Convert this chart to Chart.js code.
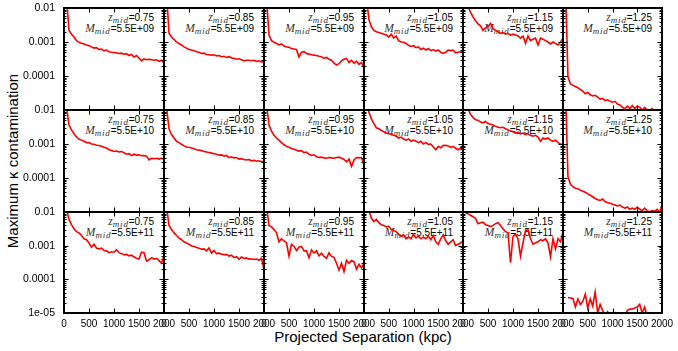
<!DOCTYPE html>
<html><head><meta charset="utf-8">
<script src="https://cdn.jsdelivr.net/npm/chart.js@4.4.1/dist/chart.umd.min.js"></script>
<style>
html,body{margin:0;padding:0;background:#fff;}
#wrap{position:relative;width:678px;height:351px;overflow:hidden;font-family:"Liberation Sans",Arial,sans-serif;color:#000;}
#wrap canvas{position:absolute;z-index:2;}
.ann{position:absolute;z-index:1;text-align:right;font-size:10px;white-space:nowrap;}
.ann div{height:10.7px;line-height:10.7px;}
.ann .v{font-family:"Liberation Serif","DejaVu Serif",serif;font-style:italic;font-size:11.5px;color:#333;}
.ann .s{font-family:"Liberation Serif","DejaVu Serif",serif;font-style:italic;font-size:9px;letter-spacing:0.8px;color:#333;position:relative;top:2px;}
#ytitle{position:absolute;left:-137.5px;top:151.5px;width:300px;height:18px;line-height:18px;text-align:center;font-size:15px;transform:rotate(-90deg);transform-origin:50% 50%;white-space:nowrap;}
#xtitle{position:absolute;left:213px;top:328px;width:300px;height:18px;line-height:18px;text-align:center;font-size:15px;white-space:nowrap;}
</style>
</head><body>
<div id="wrap">
<div id="ytitle">Maximum κ contamination</div>
<div id="xtitle">Projected Separation (kpc)</div>
</div>
<script>
// ---- data ----
const kpc = [50,100,150,200,250,300,350,400,450,500,550,600,650,700,750,800,850,900,950,1000,
             1050,1100,1150,1200,1250,1300,1350,1400,1450,1500,1550,1600,1650,1700,1750,1800,1850,1900,1950,2000];
const zMid = ['0.75','0.85','0.95','1.05','1.15','1.25'];
const mMid = ['5.5E+09','5.5E+10','5.5E+11'];
const xTickVals = [0,500,1000,1500,2000];
const xTickLabels = ['0','500','1000','1500','2000'];
const yTickVals = [1e-5,1e-4,1e-3,1e-2];
const yTickLabels = ['1e-05','0.0001','0.001','0.01'];

// M = 5.5E+09
const m09_z075 = [0.02,0.0022,0.0017,0.0014,0.0011,0.00098,0.00092,0.00088,0.00082,0.00078,
  0.00072,0.00066,0.00068,0.00060,0.00062,0.00055,0.00058,0.00052,0.00050,0.00049,
  0.00048,0.00046,0.00047,0.00044,0.00045,0.00040,0.00043,0.00036,0.00040,0.00034,
  0.00028,0.00032,0.00030,0.00031,0.00030,0.00029,0.00030,0.00027,0.00029,0.00024];
const m09_z085 = [0.03,0.0018,0.0014,0.0012,0.0010,0.00090,0.00082,0.00072,0.00066,0.00060,
  0.00058,0.00055,0.00052,0.00050,0.00046,0.00047,0.00043,0.00042,0.00041,0.00042,
  0.00039,0.00040,0.00037,0.00038,0.00035,0.00037,0.00034,0.00033,0.00031,0.00032,
  0.00030,0.00028,0.00029,0.00029,0.00028,0.00029,0.00027,0.00028,0.00026,0.00026];
const m09_z095 = [0.02,0.0016,0.0011,0.00098,0.00090,0.00082,0.00088,0.00076,0.00072,0.00070,
  0.00064,0.00062,0.00060,0.00036,0.00050,0.00052,0.00046,0.00044,0.00042,0.00041,
  0.00040,0.00038,0.00037,0.00033,0.00035,0.00031,0.00029,0.00024,0.00021,0.00023,
  0.00028,0.00031,0.00033,0.00025,0.00029,0.00024,0.00027,0.00022,0.00025,0.00017];
const m09_z105 = [0.02,0.0045,0.0028,0.0022,0.0020,0.0019,0.0018,0.0017,0.0016,0.0014,
  0.0017,0.0013,0.0015,0.0011,0.0010,0.00098,0.00090,0.00080,0.00074,0.00078,
  0.00068,0.00072,0.00060,0.00066,0.00058,0.00064,0.00056,0.00060,0.00054,0.00058,
  0.00050,0.00046,0.00050,0.00058,0.00056,0.00058,0.00048,0.00050,0.00052,0.00056];
const m09_z115 = [0.05,0.011,0.0075,0.0055,0.0042,0.0034,0.0030,0.0022,0.0026,0.0028,
  0.0035,0.0025,0.0022,0.0020,0.0018,0.0019,0.0017,0.0018,0.0016,0.0017,
  0.0016,0.0015,0.0013,0.0015,0.00092,0.0015,0.0011,0.0012,0.0013,0.00082,
  0.0013,0.0012,0.0011,0.0010,0.00088,0.0010,0.00090,0.00082,0.0010,0.0013];
const m09_z125 = [0.05,9.5e-5,5.8e-5,5.3e-5,4.9e-5,4.5e-5,4.0e-5,3.6e-5,3.0e-5,3.3e-5,
  2.8e-5,2.6e-5,2.7e-5,2.4e-5,2.1e-5,2.2e-5,1.9e-5,2.0e-5,1.8e-5,1.7e-5,
  1.8e-5,1.5e-5,1.4e-5,1.2e-5,1.1e-5,1.3e-5,1.1e-5,1.35e-5,1.1e-5,1.3e-5,
  1.2e-5,1.0e-5,1.2e-5,1.0e-5,9e-6,1.1e-5,9e-6,1.0e-5,9e-6,1.1e-5];

// M = 5.5E+10
const m10_z075 = [0.012,0.0036,0.0026,0.0020,0.0016,0.0014,0.0013,0.0012,0.0011,0.0011,
  0.0010,0.00098,0.00092,0.00090,0.00086,0.00080,0.00076,0.00068,0.00064,0.00060,
  0.00062,0.00058,0.00060,0.00055,0.00050,0.00052,0.00046,0.00050,0.00047,0.00048,
  0.00045,0.00046,0.00044,0.00034,0.00038,0.00037,0.00038,0.00036,0.00038,0.00035];
const m10_z085 = [0.012,0.0028,0.0019,0.0015,0.0012,0.0011,0.00098,0.00088,0.00082,0.00080,
  0.00076,0.00072,0.00068,0.00066,0.00064,0.00060,0.00058,0.00056,0.00054,0.00052,
  0.00050,0.00047,0.00048,0.00044,0.00046,0.00040,0.00042,0.00039,0.00040,0.00036,
  0.00037,0.00035,0.00034,0.00035,0.00032,0.00033,0.00031,0.00032,0.00030,0.00031];
const m10_z095 = [0.015,0.0036,0.0024,0.0018,0.0015,0.0013,0.0011,0.00095,0.00085,0.00080,
  0.00074,0.00070,0.00066,0.00062,0.00064,0.00056,0.00058,0.00050,0.00046,0.00048,
  0.00042,0.00040,0.00041,0.00039,0.00038,0.00040,0.00039,0.00038,0.00040,0.00041,
  0.00038,0.00035,0.00030,0.00036,0.00022,0.00034,0.00040,0.00039,0.00040,0.00024];
const m10_z105 = [0.03,0.0085,0.0055,0.0040,0.0030,0.0028,0.0025,0.0023,0.0021,0.0020,
  0.0019,0.0018,0.0017,0.0015,0.0016,0.0014,0.0013,0.0014,0.0012,0.0013,
  0.0012,0.0011,0.0012,0.0010,0.0011,0.00098,0.0010,0.00082,0.00068,0.00085,
  0.00078,0.00090,0.00092,0.00088,0.00080,0.00085,0.00075,0.00068,0.00076,0.00072];
const m10_z115 = [0.05,0.011,0.0075,0.0060,0.0052,0.0050,0.0044,0.0042,0.0046,0.0040,
  0.0038,0.0036,0.0033,0.0031,0.0030,0.0031,0.0028,0.0026,0.0024,0.0023,
  0.0021,0.0022,0.0020,0.0021,0.0019,0.0020,0.0018,0.0017,0.0018,0.0016,
  0.0012,0.0015,0.0014,0.0015,0.0013,0.0012,0.0013,0.0011,0.0010,0.00095];
const m10_z125 = [0.05,0.00011,6.5e-5,5.6e-5,5.0e-5,4.8e-5,4.4e-5,4.1e-5,3.8e-5,3.4e-5,
  3.1e-5,2.8e-5,2.5e-5,2.3e-5,2.2e-5,2.4e-5,2.0e-5,1.9e-5,1.8e-5,1.7e-5,
  1.6e-5,1.5e-5,1.6e-5,1.4e-5,1.3e-5,1.4e-5,1.2e-5,1.3e-5,1.2e-5,1.4e-5,
  1.2e-5,1.1e-5,1.3e-5,1.1e-5,1.0e-5,1.1e-5,1.05e-5,1.2e-5,1.0e-5,1.6e-5];

// M = 5.5E+11
const m11_z075 = [0.012,0.0060,0.0042,0.0032,0.0026,0.0024,0.0020,0.0016,0.0015,0.0012,
  0.00090,0.0011,0.00085,0.00080,0.00084,0.00072,0.00070,0.00062,0.00066,0.00064,
  0.00076,0.00062,0.00058,0.00054,0.00055,0.00050,0.00052,0.00046,0.00042,0.00040,
  0.00064,0.00062,0.00035,0.00038,0.00044,0.00040,0.00042,0.00036,0.00030,0.00050];
const m11_z085 = [0.015,0.0040,0.0030,0.0024,0.0020,0.0017,0.0015,0.0013,0.0012,0.0011,
  0.00098,0.00094,0.00088,0.00084,0.00078,0.00080,0.00070,0.00085,0.00060,0.00072,
  0.00058,0.00060,0.00056,0.00054,0.00055,0.00049,0.00052,0.00044,0.00047,0.00040,
  0.00046,0.00042,0.00043,0.00040,0.00041,0.00039,0.00040,0.00037,0.00042,0.00020];
const m11_z095 = [0.015,0.0040,0.0036,0.0030,0.0024,0.0013,0.0016,0.0014,0.0012,0.00049,
  0.0011,0.00095,0.00072,0.00090,0.00095,0.00070,0.00070,0.00044,0.00075,0.00060,
  0.00070,0.00050,0.00060,0.00048,0.00042,0.00061,0.00048,0.00045,0.00030,0.00019,
  0.00030,0.00017,0.00037,0.00030,0.00036,0.00033,0.00020,0.00028,0.00022,0.00030];
const m11_z105 = [0.05,0.011,0.0065,0.0052,0.0060,0.0048,0.0042,0.0040,0.0036,0.0038,
  0.0030,0.0028,0.0026,0.0022,0.0019,0.0021,0.0016,0.0018,0.0016,0.0022,
  0.0017,0.0019,0.0016,0.0018,0.0016,0.0019,0.0015,0.0020,0.0013,0.0011,
  0.0016,0.0021,0.0014,0.0011,0.0013,0.0015,0.0010,0.0011,0.0012,0.0014];
const m11_z115 = [0.0095,0.0088,0.0080,0.0072,0.0065,0.0045,0.0048,0.0050,0.0042,0.0040,
  0.0037,0.0040,0.0045,0.0048,0.0040,0.0032,0.0026,0.0024,0.00031,0.0019,
  0.0022,0.0016,0.00049,0.0012,0.0028,0.0030,0.0016,0.0011,0.0012,0.0013,
  0.0015,0.0014,0.0016,0.0012,0.00047,0.0016,0.0008,0.0016,0.0013,0.0026];
const m11_z125 = [null,2.9e-5,2.8e-5,2.7e-5,1.5e-5,2.6e-5,1.8e-5,2.2e-5,3.6e-5,1.4e-5,
  2.6e-5,1.6e-5,4.2e-5,1.0e-5,1.8e-5,1.2e-5,8e-6,1.1e-5,9e-6,8e-6,
  9e-6,7e-6,8e-6,9e-6,8e-6,1.2e-5,1.3e-5,1.3e-5,1.4e-5,1.5e-5,
  1.8e-5,1.0e-5,1.5e-5,8e-6,9e-6,8e-6,7e-6,8e-6,9e-6,1.1e-5];

const grid = [
  [m09_z075,m09_z085,m09_z095,m09_z105,m09_z115,m09_z125],
  [m10_z075,m10_z085,m10_z095,m10_z105,m10_z115,m10_z125],
  [m11_z075,m11_z085,m11_z095,m11_z105,m11_z115,m11_z125]
];

// ---- layout ----
const colEdges = [64,164,264,364,463,563,662];
const rowEdges = [8,110,212,313];
const ML = 62, MT = 18, MR = 20, MB = 22;
const FONT = '"Liberation Sans", Arial, sans-serif';

const frameTicks = {
  id: 'frameTicks',
  afterDatasetsDraw(chart) {
    const ctx = chart.ctx, a = chart.chartArea, x = chart.scales.x, y = chart.scales.y;
    ctx.save();
    ctx.strokeStyle = '#000';
    ctx.lineWidth = 1;
    ctx.beginPath();
    for (let e = -5; e <= -2; e++) {
      for (let k = 1; k <= 9; k++) {
        if (e === -2 && k > 1) break;
        const v = k * Math.pow(10, e);
        const py = Math.round(y.getPixelForValue(v)) + 0.5;
        const len = k === 1 ? 4.5 : 2.5;
        ctx.moveTo(a.left, py); ctx.lineTo(a.left + len, py);
        ctx.moveTo(a.right, py); ctx.lineTo(a.right - len, py);
      }
    }
    xTickVals.forEach(v => {
      const px = Math.round(x.getPixelForValue(v)) + 0.5;
      ctx.moveTo(px, a.top); ctx.lineTo(px, a.top + 4.5);
      ctx.moveTo(px, a.bottom); ctx.lineTo(px, a.bottom - 4.5);
    });
    ctx.stroke();
    ctx.lineWidth = 2;
    ctx.strokeRect(a.left, a.top, a.right - a.left, a.bottom - a.top);
    ctx.restore();
  }
};

const wrap = document.getElementById('wrap');

for (let r = 0; r < 3; r++) {
  for (let c = 0; c < 6; c++) {
    const L = colEdges[c], R = colEdges[c + 1], T = rowEdges[r], B = rowEdges[r + 1];
    const ann = document.createElement('div');
    ann.className = 'ann';
    ann.style.right = (678 - (R - 10)) + 'px';
    ann.style.top = (T + 4.3) + 'px';
    ann.innerHTML = '<div><span class="v">z</span><span class="s">mid</span>=' + zMid[c] + '</div>' +
                    '<div><span class="v">M</span><span class="s">mid</span>=' + mMid[r] + '</div>';
    wrap.appendChild(ann);

    const cv = document.createElement('canvas');
    const W = (R - L) + ML + MR, H = (B - T) + MT + MB;
    cv.width = W; cv.height = H;
    cv.style.left = (L - ML) + 'px';
    cv.style.top = (T - MT) + 'px';
    cv.style.width = W + 'px'; cv.style.height = H + 'px';
    wrap.appendChild(cv);

    const series = grid[r][c];
    const yVals = r === 2 ? yTickVals : yTickVals.slice(1);
    new Chart(cv, {
      type: 'line',
      data: { datasets: [{
        data: kpc.map((x, i) => ({ x: x, y: series[i] })),
        borderColor: '#ff0000', borderWidth: 1.6, pointRadius: 0, tension: 0,
        fill: false, spanGaps: false, clip: 0
      }]},
      options: {
        responsive: false, animation: false, devicePixelRatio: 1,
        layout: { padding: { left: 0, top: MT, right: MR, bottom: 0 } },
        plugins: { legend: { display: false }, tooltip: { enabled: false } },
        scales: {
          x: {
            type: 'linear', min: 0, max: 2000,
            grid: { display: false, drawTicks: false }, border: { display: false },
            ticks: { display: r === 2, autoSkip: false, maxRotation: 0, minRotation: 0, padding: 5,
                     color: '#000', font: { family: FONT, size: 10 },
                     callback: (v) => { const i = xTickVals.indexOf(v); return i >= 0 ? xTickLabels[i] : ''; } },
            afterBuildTicks: (s) => { s.ticks = xTickVals.map(v => ({ value: v })); },
            afterFit: (s) => { s.height = MB; }
          },
          y: {
            type: 'logarithmic', min: 1e-5, max: 0.01,
            grid: { display: false, drawTicks: false }, border: { display: false },
            ticks: { display: c === 0, autoSkip: false, padding: 9,
                     color: '#000', font: { family: FONT, size: 10.5 },
                     callback: (v) => { const i = yTickVals.indexOf(v); return i >= 0 ? yTickLabels[i] : ''; } },
            afterBuildTicks: (s) => { s.ticks = yVals.map(v => ({ value: v })); },
            afterFit: (s) => { s.width = ML; }
          }
        }
      },
      plugins: [frameTicks]
    });
  }
}
</script>
</body></html>
